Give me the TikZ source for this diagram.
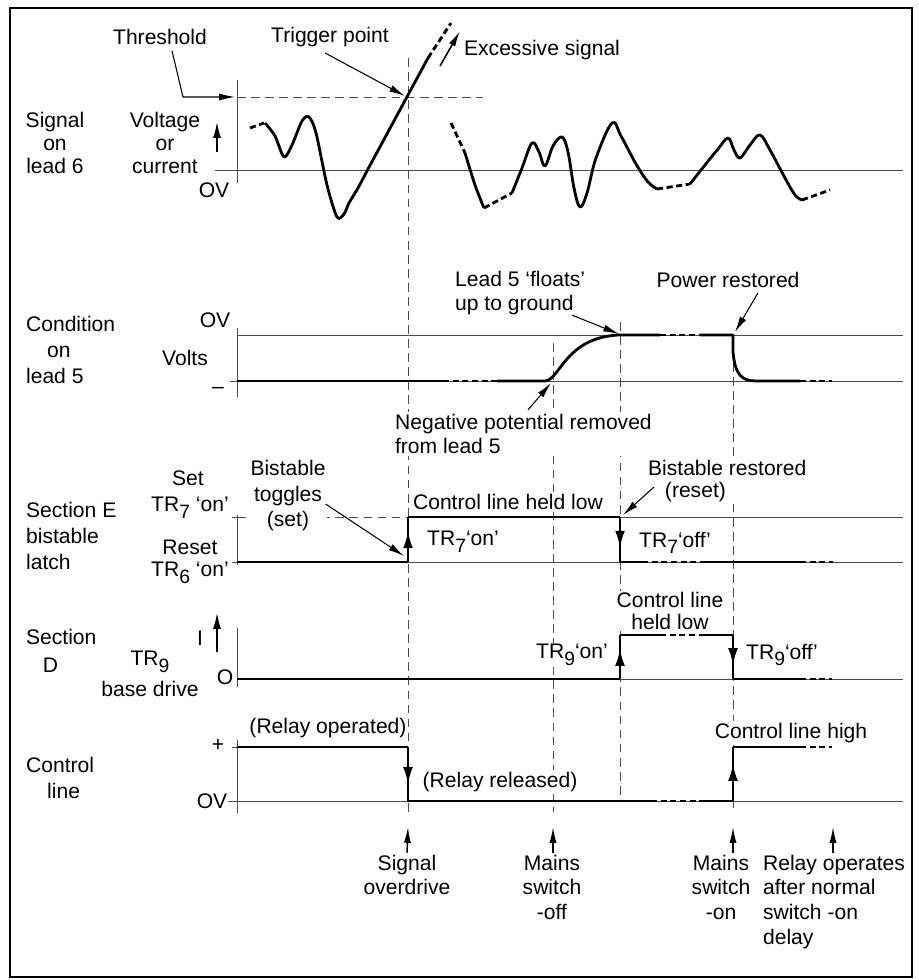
\documentclass[tikz,border=0pt]{standalone}
\usepackage{fontspec}
\setmainfont{Liberation Sans}
\usetikzlibrary{arrows.meta, decorations.markings, positioning}
\newcommand{\TRn}[1]{TR\raisebox{-0.6ex}{\fontsize{11}{11}\selectfont #1}}

\begin{document}
\begin{tikzpicture}[x=0.02cm, y=-0.02cm,
    lbl/.style={font=\fontsize{12}{14}\selectfont, inner sep=1pt, align=center},
    note/.style={lbl, fill=white},
    trace/.style={line width=1.6pt, line join=round},
    trdash/.style={trace, dash pattern=on 3.5pt off 2pt},
    level/.style={line width=0.5pt, black!70},
    guide/.style={line width=0.5pt, black!70, dash pattern=on 5pt off 3pt},
    pointer/.style={line width=0.6pt, -{Latex[length=9pt,width=4pt]}},
    flagged/.style={trace, postaction={decorate, decoration={markings,
        mark=at position 0.7 with {\arrow{Latex[length=10pt,width=5.5pt]}}}}}]

    \useasboundingbox (0,0) rectangle (919,980);
    \draw [line width=1.2pt] (10,8) rectangle (912,977);

    \coordinate (od) at (408,0);
    \coordinate (off) at (553,0);
    \coordinate (fl) at (620,0);
    \coordinate (on) at (733,0);
    \draw [guide] (408,58) -- (408,812);
    \draw [guide] (553,343) -- (553,812);
    \draw [guide] (620,322) -- (620,801);
    \draw [guide] (733,335) -- (733,812);

    \draw [level] (215,170) -- (903,170);
    \draw [level] (237,80) -- (237,183);
    \draw [guide] (237,97) -- (483,97);
    \draw [level] (237,335) -- (903,335);
    \draw [level] (230,381) -- (903,381);
    \draw [level] (237,328) -- (237,397);
    \draw [level] (232,562) -- (903,562);
    \draw [level] (232,517) -- (237,517);
    \draw [guide] (237,517) -- (408,517);
    \draw [level] (620,517) -- (903,517);
    \draw [level] (237,515) -- (237,565);
    \draw [level] (237,679) -- (903,679);
    \draw [level] (237,628) -- (237,687);
    \draw [level] (228,801) -- (903,801);
    \draw [level] (232,747) -- (237,747);
    \draw [level] (237,740) -- (237,813);

    \node [lbl, font=\fontsize{12}{13}\selectfont] (sig6) at (55,143) {Signal\\on\\lead 6};
    \node [lbl, font=\fontsize{12}{13}\selectfont] (vorc) at (165,143) {Voltage\\or\\current};
    \node [lbl] (ov1) at (214,190) {OV};
    \draw [line width=0.8pt, -{Latex[length=9pt,width=4.5pt]}] (217,152) -- (217,122);

    \node [lbl, align=left, anchor=west, font=\fontsize{12}{15}\selectfont] (cond5) at (24,350) {Condition\\\hspace{1em}on\\lead 5};
    \node [lbl] (ov2) at (215,320) {OV};
    \node [lbl] (volts) at (185,358) {Volts};
    \node [lbl] (neg2) at (218,390) {\textendash};

    \node [lbl, align=left, anchor=west, font=\fontsize{12}{15}\selectfont] (secE) at (24,536) {Section E\\bistable\\latch};
    \node [lbl] (set) at (188,478) {Set};
    \node [lbl] (set7) at (190,508) {\TRn{7} `on'};
    \node [lbl] (reset) at (190,547) {Reset};
    \node [lbl] (reset6) at (190,573) {\TRn{6} `on'};

    \node [lbl, align=left, anchor=west, font=\fontsize{12}{16}\selectfont] (secD) at (24,651) {Section\\\hspace{0.8em}D};
    \node [lbl] (cur) at (200,638) {I};
    \draw [line width=0.8pt, -{Latex[length=9pt,width=4.5pt]}] (217,652) -- (217,613);
    \node [lbl] (tr9) at (150,662) {\TRn{9}};
    \node [lbl] (base9) at (150,689) {base drive};
    \node [lbl] (zero) at (225,677) {O};

    \node [lbl, align=left, anchor=west, font=\fontsize{12}{15}\selectfont] (ctrl) at (24,778) {Control\\\hspace{1em}line};
    \node [lbl] (plus) at (218,745) {+};
    \node [lbl] (ov5) at (212,801) {OV};

    \node [lbl] (thr) at (160,37) {Threshold};
    \node [lbl] (trig) at (330,37) {Trigger point};
    \node [lbl, anchor=west] (exc) at (462,50) {Excessive signal};
    \node [lbl, align=left, anchor=west] (floats) at (453,293) {Lead 5 `floats'\\up to ground};
    \node [lbl] (power) at (728,280) {Power restored};
    \node [note, align=left, anchor=west] (negpot) at (393,434) {Negative potential removed\\from lead 5};
    \node [note, font=\fontsize{12}{14.5}\selectfont] (toggles) at (288,496) {Bistable\\toggles\\(set)};
    \node [note] (held7) at (508,502) {Control line held low};
    \node [note] (on7) at (463,542) {\TRn{7}`on'};
    \node [note] (off7) at (675,543) {\TRn{7}`off'};
    \node [note, align=left, anchor=west, font=\fontsize{12}{13}\selectfont] (restored) at (646,481) {Bistable restored\\\hspace{0.8em}(reset)};
    \node [note, font=\fontsize{12}{12.5}\selectfont] (held9) at (670,611) {Control line\\held low};
    \node [note] (on9) at (572,655) {\TRn{9}`on'};
    \node [note] (off9) at (782,655) {\TRn{9}`off'};
    \node [note] (relop) at (328,728) {(Relay operated)};
    \node [note] (relrel) at (500,782) {(Relay released)};
    \node [note] (clhigh) at (791,733) {Control line high};

    \node [lbl, anchor=north] (sigod) at (407,853) {Signal\\overdrive};
    \node [lbl, anchor=north] (mainsoff) at (552,853) {Mains\\switch\\-off};
    \node [lbl, anchor=north] (mainson) at (721,853) {Mains\\switch\\-on};
    \node [lbl, anchor=north west, align=left] (rlyop) at (761,853) {Relay operates\\after normal\\switch -on\\delay};

    \draw [trdash] (250,128) -- (264,123);
    \draw [trace] plot [smooth, tension=0.5] coordinates {(265,123) (275,136) (284,157) (292,145) (302,121) (309,117) (316,133) (327,185) (337,217) (344,214) (349,203) (358,188) (368,169)} -- (428,58);
    \draw [trdash] (428,58) -- (451,23);
    \draw [trdash] (451,123) -- (465,153);
    \draw [trace] plot [smooth, tension=0.5] coordinates {(465,153) (475,185) (484,208)};
    \draw [trdash] (484,208) -- (512,193);
    \draw [trace] plot [smooth, tension=0.6] coordinates {(512,193) (522,168) (532,143) (539,152) (545,166) (553,146) (562,137) (568,152) (574,188) (580,207) (587,193) (596,158) (612,123) (621,136) (636,164) (648,182) (657,189)};
    \draw [trdash] (657,189) -- (690,184);
    \draw [trace] plot [smooth, tension=0.6] coordinates {(690,184) (705,165) (718,149) (728,138) (734,150) (740,158) (750,145) (760,135) (770,150) (785,178) (795,195) (802,200)};
    \draw [trdash] (802,200) -- (830,190);

    \draw [trace] (237,381) -- (443,381);
    \draw [trdash] (443,381) -- (497,381);
    \draw [trace] (497,381) -- (545,381) .. controls (560,380) and (565,338) .. (618,335) -- (660,335);
    \draw [trdash] (660,335) -- (700,335);
    \draw [trace] (700,335) -- (733,335) -- (733,352) .. controls (735,375) and (742,381) .. (756,381) -- (800,381);
    \draw [trdash] (800,381) -- (832,381);

    \draw [trace] (237,562) -- (408,562);
    \draw [flagged] (408,562) -- (408,517);
    \draw [trace] (408,517) -- (620,517);
    \draw [flagged] (620,517) -- (620,562);
    \draw [trace] (620,562) -- (642,562);
    \draw [trdash] (642,562) -- (705,562);
    \draw [trace] (705,562) -- (800,562);
    \draw [trdash] (800,562) -- (833,562);

    \draw [trace] (237,679) -- (620,679);
    \draw [flagged] (620,679) -- (620,635);
    \draw [trace] (620,635) -- (660,635);
    \draw [trdash] (660,635) -- (700,635);
    \draw [trace] (700,635) -- (733,635);
    \draw [flagged] (733,635) -- (733,679);
    \draw [trace] (733,679) -- (800,679);
    \draw [trdash] (800,679) -- (832,679);

    \draw [trace] (237,747) -- (408,747);
    \draw [flagged] (408,747) -- (408,801);
    \draw [trace] (408,801) -- (651,801);
    \draw [trdash] (651,801) -- (705,801);
    \draw [trace] (705,801) -- (733,801);
    \draw [flagged] (733,801) -- (733,747);
    \draw [trace] (733,747) -- (800,747);
    \draw [trdash] (800,747) -- (832,747);

    \draw [pointer] (thr.south) ++(12,4) -- (183,97) -- (235,97);
    \draw [pointer] (trig.south) ++(-5,4) -- (405,96);
    \draw [pointer, line width=0.9pt] (440,66) -- (460,31);
    \draw [pointer] (floats.south east) ++(-15,-2) -- (619,334);
    \draw [pointer] (power.south) ++(30,3) -- (735,332);
    \draw [pointer] (negpot.north west) ++(135,-2) -- (551,383);
    \draw [pointer] (toggles.east) ++(-2,8) -- (404,556);
    \draw [pointer] (restored.west) ++(8,6) -- (623,515);

    \draw [pointer, line width=0.8pt] (sigod.north) -- (od |- 0,827);
    \draw [pointer, line width=0.8pt] (mainsoff.north -| off) -- (off |- 0,827);
    \draw [pointer, line width=0.8pt] (mainson.north -| on) -- (on |- 0,827);
    \draw [pointer, line width=0.8pt] (rlyop.north -| 833,0) -- (833,827);
\end{tikzpicture}
\end{document}
